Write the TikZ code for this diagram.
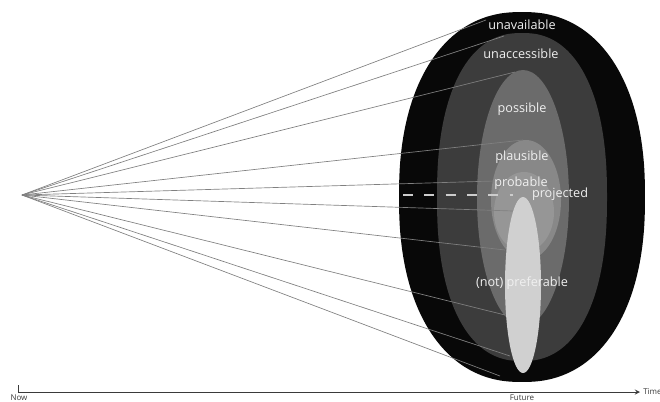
\documentclass[tikz,border=0pt]{standalone}
\usepackage{fontspec}
\setmainfont{Open Sans}
\usepackage{xcolor}
\usepackage{tikz}
\usetikzlibrary{arrows, positioning}
\definecolor{zoneblack}{RGB}{8, 8, 8}
\definecolor{zonedark}{RGB}{60, 60, 60}
\definecolor{zonepossible}{RGB}{107, 107, 107}
\definecolor{zoneplausible}{RGB}{136, 136, 136}
\definecolor{zoneprobable}{RGB}{150, 150, 150}
\definecolor{zonepreferable}{RGB}{208, 208, 208}
\definecolor{conegray}{RGB}{128, 128, 128}
\definecolor{axisgray}{RGB}{58, 58, 58}

\begin{document}
\begin{tikzpicture}[x=0.75pt, y=-0.75pt, >=stealth,
    cone/.style={draw=conegray, line width=0.5pt},
    projline/.style={draw=white!80!black, line width=1.1pt, dash pattern=on 7.5pt off 8.5pt},
    zonelabel/.style={text=white!94!black, font=\fontsize{9.5}{11}\selectfont, inner sep=0pt},
    axisline/.style={draw=axisgray, line width=0.75pt},
    axislabel/.style={text=axisgray, font=\fontsize{6}{7}\selectfont, inner sep=0pt}]

    \useasboundingbox (0,0) rectangle (660,401);

    % Zones
    \fill[zoneblack] plot[domain=1.5:358.5, samples=120, smooth cycle]
        ({522+123*sign(cos(\x))*abs(cos(\x))^0.88}, {197+185*sign(sin(\x))*abs(sin(\x))^0.88});
    \fill[zonedark] plot[domain=1.5:358.5, samples=120, smooth cycle]
        ({522+85*sign(cos(\x))*abs(cos(\x))^0.86}, {197+164*sign(sin(\x))*abs(sin(\x))^0.86});
    \fill[zonepossible] (523,198) ellipse [x radius=46, y radius=128];
    \fill[zoneplausible] (526,200) ellipse [x radius=35, y radius=60];
    \fill[zoneprobable] (524,212) ellipse [x radius=30, y radius=40];

    % Apex and end points
    \coordinate (apex) at (22,195);
    \coordinate (e1) at (486,20);
    \coordinate (e2) at (504,36);
    \coordinate (e3) at (515,72);
    \coordinate (e4) at (523,140);
    \coordinate (e5) at (495,181);
    \coordinate (e6) at (513,211);
    \coordinate (e7) at (505,250);
    \coordinate (e8) at (505,315);
    \coordinate (e9) at (510,356);
    \coordinate (e10) at (500,376);
    \coordinate (projstart) at (403,195);
    \coordinate (projend) at (513,195);

    % Cone
    \draw[cone] (apex) -- (e1);
    \draw[cone] (apex) -- (e2);
    \draw[cone] (apex) -- (e3);
    \draw[cone] (apex) -- (e4);
    \draw[cone] (apex) -- (e5);
    \draw[cone] (apex) -- (e6);
    \draw[cone] (apex) -- (e7);
    \draw[cone] (apex) -- (e8);
    \draw[cone] (apex) -- (e9);
    \draw[cone] (apex) -- (e10);
    \draw[projline] (projstart) -- (projend);

    % Preferable
    \fill[zonepreferable] (523,285) ellipse [x radius=18, y radius=88];

    % Zone labels
    \node[zonelabel] (unavailable) at (522,25) {unavailable};
    \node[zonelabel] (unaccessible) at (521,54) {unaccessible};
    \node[zonelabel] (possible) at (522,109) {possible};
    \node[zonelabel] (plausible) at (522,157) {plausible};
    \node[zonelabel] (probable) at (521,183) {probable};
    \node[zonelabel] (projected) at (560,194) {projected};
    \node[zonelabel] (preferable) at (522,283) {(not) preferable};

    % Time axis
    \coordinate (tick) at (18,385);
    \coordinate (origin) at (18,392);
    \coordinate (axisend) at (640,392);
    \draw[axisline, ->] (tick) -- (origin) -- (axisend);
    \node[axislabel, anchor=south] (now) at (19,400.5) {Now};
    \node[axislabel, anchor=south] (future) at (522,400.5) {Future};
    \node[axislabel, anchor=west] (time) at (643,392) {Time};
\end{tikzpicture}
\end{document}
